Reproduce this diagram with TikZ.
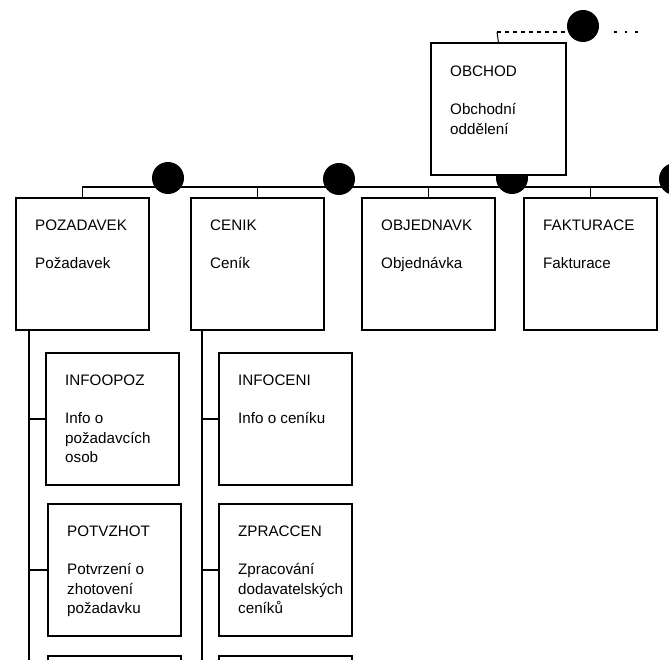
\documentclass[tikz,border=0pt]{standalone}
\usepackage{fontspec}
\setmainfont{Liberation Sans}
\usetikzlibrary{positioning,backgrounds}
\tikzset{
  unitbox/.style={draw, fill=white, line width=1.8pt, anchor=north west,
    minimum width=133pt, minimum height=132pt, inner sep=0pt},
  unittext/.style={align=left, inner sep=0pt,
    font=\fontsize{15.2}{19.5}\selectfont},
  joint/.style={circle, fill=black, minimum size=32pt, inner sep=0pt},
  wire/.style={line width=1.6pt}
}
\begin{document}
\begin{tikzpicture}[x=1pt,y=-1pt]
      \useasboundingbox (0,0) rectangle (669,660);
      % boxes
      \node[unitbox, minimum width=135pt] (obchod) at (430,42) {};
      \node[unitbox] (pozad) at (15,197) {};
      \node[unitbox] (cenik) at (190,197) {};
      \node[unitbox] (objedn) at (361,197) {};
      \node[unitbox] (faktur) at (523,197) {};
      \node[unitbox] (infoopoz) at (45,352) {};
      \node[unitbox] (infoceni) at (218,352) {};
      \node[unitbox] (potvzhot) at (47,503) {};
      \node[unitbox] (zpraccen) at (218,503) {};
      \node[unitbox] (nextpoz) at (47,655) {};
      \node[unitbox] (nextcen) at (218,655) {};
      % texts
      \node[unittext, below right=24pt and 20pt of obchod.north west] (obchod-t)
        {OBCHOD\\[18.5pt]Obchodní\\oddělení};
      \node[unittext, below right=23pt and 20pt of pozad.north west] (pozad-t)
        {POZADAVEK\\[18.5pt]Požadavek};
      \node[unittext, below right=23pt and 20pt of cenik.north west] (cenik-t)
        {CENIK\\[18.5pt]Ceník};
      \node[unittext, below right=23pt and 20pt of objedn.north west] (objedn-t)
        {OBJEDNAVK\\[18.5pt]Objednávka};
      \node[unittext, below right=23pt and 20pt of faktur.north west] (faktur-t)
        {FAKTURACE\\[18.5pt]Fakturace};
      \node[unittext, below right=23pt and 20pt of infoopoz.north west] (infoopoz-t)
        {INFOOPOZ\\[18.5pt]Info o\\požadavcích\\osob};
      \node[unittext, below right=23pt and 20pt of infoceni.north west] (infoceni-t)
        {INFOCENI\\[18.5pt]Info o ceníku};
      \node[unittext, below right=23pt and 20pt of potvzhot.north west] (potvzhot-t)
        {POTVZHOT\\[18.5pt]Potvrzení o\\zhotovení\\požadavku};
      \node[unittext, below right=23pt and 20pt of zpraccen.north west] (zpraccen-t)
        {ZPRACCEN\\[18.5pt]Zpracování\\dodavatelských\\ceníků};
      \begin{pgfonlayer}{background}
        % joints
        \node[joint] (topdot) at (583,26) {};
        \node[joint] (dot1) at (168,178) {};
        \node[joint] (dot2) at (339,179) {};
        \node[joint] (dot3) at (512,178) {};
        \node[joint] (dot4) at (675,179) {};
        \coordinate (busL) at (82,187);
        \coordinate (busR) at (669,187);
        \coordinate (toptick) at (497,32);
        \coordinate (topRa) at (614,32);
        \coordinate (topRb) at (642,32);
        \coordinate (spineL) at (29,330);
        \coordinate (spineLend) at (29,662);
        \coordinate (spineR) at (202,330);
        \coordinate (spineRend) at (202,662);
        % bus to the units
        \draw[wire] (pozad.north) -- (pozad.north |- busL) -- (busR);
        \draw[wire] (cenik.north) -- (cenik.north |- busL);
        \draw[wire] (objedn.north) -- (objedn.north |- busL);
        \draw[wire] (faktur.north) -- (faktur.north |- busL);
        \draw[wire] (obchod.south) -- (obchod.south |- busL);
        % link upwards
        \draw[line width=1pt] (obchod.north) -- (toptick);
        \draw[line width=1.3pt, dash pattern=on 4pt off 4pt] (toptick) -- (toptick -| topdot.west);
        \draw[line width=1.3pt, dash pattern=on 2.5pt off 8pt] (topRa) -- (topRb);
        % sub-units
        \draw[wire] (spineL) -- (spineLend);
        \draw[wire] (infoopoz.west) -- (infoopoz.west -| spineL);
        \draw[wire] (potvzhot.west) -- (potvzhot.west -| spineL);
        \draw[wire] (spineR) -- (spineRend);
        \draw[wire] (infoceni.west) -- (infoceni.west -| spineR);
        \draw[wire] (zpraccen.west) -- (zpraccen.west -| spineR);
      \end{pgfonlayer}
\end{tikzpicture}
\end{document}
